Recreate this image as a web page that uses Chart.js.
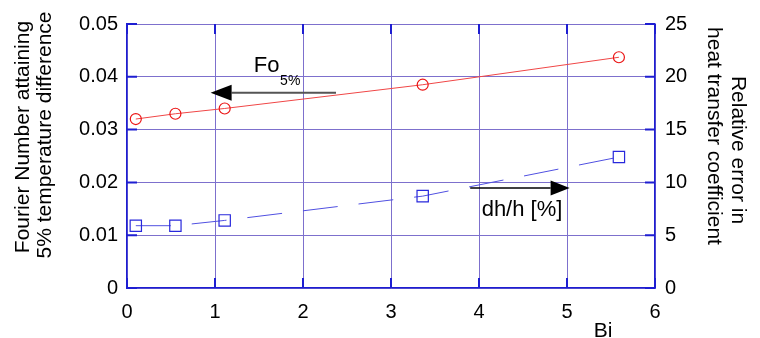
<!DOCTYPE html>
<html>
<head>
<meta charset="utf-8">
<script src="https://cdn.jsdelivr.net/npm/chart.js@4"></script>
<style>
    body { margin: 0; background: #fff; }
    #wrap { width: 760px; height: 338px; position: relative; }
</style>
</head>
<body>
<div id="wrap"><canvas id="biChart"></canvas></div>
<script>
// Biot numbers of the calculated cases
const bi = [0.1, 0.55, 1.11, 3.36, 5.59];
// Fourier number reaching 5% temperature difference (left axis)
const fo5 = [0.032, 0.033, 0.034, 0.0385, 0.0437];
// relative error dh/h in % (right axis)
const dhh = [5.9, 5.9, 6.4, 8.7, 12.4];

const xTicks = [0, 1, 2, 3, 4, 5, 6];
const leftTicks = [0, 0.01, 0.02, 0.03, 0.04, 0.05];
const rightTicks = [0, 5, 10, 15, 20, 25];

// annotation anchors in data units: [x, y]
const foArrow = [[2.375, 0.037], [0.95, 0.037]];
const dhArrow = [[3.9, 9.47], [5.03, 9.47]];
const foLabel = [1.44, 0.0409];
const foSubLabel = [1.74, 0.0385];
const dhLabel = [4.03, 6.8];

const FONT = "'Liberation Sans', Arial, sans-serif";
const GRID = 'rgb(125,112,205)';
const DARK = 'rgb(30,30,210)';

Chart.defaults.font.family = FONT;
Chart.defaults.color = '#000';

function arrow(ctx, x1, y1, x2, y2, color, width, headLen, headHalf) {
    const dir = Math.sign(x2 - x1);
    ctx.save();
    ctx.strokeStyle = color;
    ctx.lineWidth = width;
    ctx.beginPath();
    ctx.moveTo(x1, y1);
    ctx.lineTo(x2 - dir * headLen, y2);
    ctx.stroke();
    ctx.fillStyle = '#000';
    ctx.beginPath();
    ctx.moveTo(x2, y2);
    ctx.lineTo(x2 - dir * headLen, y2 - headHalf);
    ctx.lineTo(x2 - dir * headLen, y2 + headHalf);
    ctx.closePath();
    ctx.fill();
    ctx.restore();
}

function vText(ctx, text, x, y, angle) {
    ctx.save();
    ctx.translate(x, y);
    ctx.rotate(angle);
    ctx.textAlign = 'center';
    ctx.textBaseline = 'middle';
    ctx.fillText(text, 0, 0);
    ctx.restore();
}

const decorPlugin = {
    id: 'decor',
    afterDraw(chart) {
        const { ctx, chartArea: a, scales } = chart;
        const sx = scales.x, sl = scales.y, sr = scales.y2;

        // inner tick marks on the frame
        ctx.save();
        ctx.strokeStyle = DARK;
        ctx.lineWidth = 2;
        ctx.beginPath();
        xTicks.forEach(v => {
            const px = sx.getPixelForValue(v);
            ctx.moveTo(px, a.top); ctx.lineTo(px, a.top + 10);
            ctx.moveTo(px, a.bottom); ctx.lineTo(px, a.bottom - 10);
        });
        leftTicks.forEach(v => {
            const py = sl.getPixelForValue(v);
            ctx.moveTo(a.left, py); ctx.lineTo(a.left + 10, py);
            ctx.moveTo(a.right, py); ctx.lineTo(a.right - 10, py);
        });
        ctx.stroke();
        ctx.restore();

        // arrows
        arrow(ctx, sx.getPixelForValue(foArrow[0][0]), sl.getPixelForValue(foArrow[0][1]),
            sx.getPixelForValue(foArrow[1][0]), sl.getPixelForValue(foArrow[1][1]), '#555', 2, 21, 8);
        arrow(ctx, sx.getPixelForValue(dhArrow[0][0]), sr.getPixelForValue(dhArrow[0][1]),
            sx.getPixelForValue(dhArrow[1][0]), sr.getPixelForValue(dhArrow[1][1]), '#000', 1.5, 19, 7.5);

        ctx.save();
        ctx.fillStyle = '#000';
        ctx.textAlign = 'left';
        ctx.textBaseline = 'alphabetic';
        ctx.font = '22px ' + FONT;
        ctx.fillText('Fo', sx.getPixelForValue(foLabel[0]), sl.getPixelForValue(foLabel[1]));
        ctx.fillText('dh/h [%]', sx.getPixelForValue(dhLabel[0]), sr.getPixelForValue(dhLabel[1]));
        ctx.font = '14px ' + FONT;
        ctx.fillText('5%', sx.getPixelForValue(foSubLabel[0]), sl.getPixelForValue(foSubLabel[1]));

        // axis titles
        ctx.font = '21px ' + FONT;
        ctx.textAlign = 'center';
        ctx.fillText('Bi', 603, 337);
        vText(ctx, 'Fourier Number attaining', 23, 137, -Math.PI / 2);
        vText(ctx, '5% temperature difference', 45, 135, -Math.PI / 2);
        vText(ctx, 'Relative error in', 738, 150, Math.PI / 2);
        vText(ctx, 'heat transfer coefficient', 714, 136, Math.PI / 2);
        ctx.restore();
    }
};

new Chart(document.getElementById('biChart'), {
    type: 'line',
    data: {
        datasets: [{
            label: 'Fo5%',
            data: bi.map((x, i) => ({ x, y: fo5[i] })),
            yAxisID: 'y',
            borderColor: 'rgb(240,70,70)',
            borderWidth: 1,
            pointStyle: 'circle',
            pointRadius: 5.5,
            pointBorderColor: 'rgb(235,20,20)',
            pointBackgroundColor: 'rgba(0,0,0,0)',
            pointBorderWidth: 1.2,
            tension: 0
        }, {
            label: 'dh/h',
            data: bi.map((x, i) => ({ x, y: dhh[i] })),
            yAxisID: 'y2',
            borderColor: 'rgb(80,80,225)',
            borderWidth: 1,
            borderDash: [35, 21],
            pointStyle: 'rect',
            pointRadius: 8,
            pointBorderColor: 'rgb(40,40,220)',
            pointBackgroundColor: 'rgba(0,0,0,0)',
            pointBorderWidth: 1.2,
            tension: 0
        }]
    },
    options: {
        responsive: true,
        maintainAspectRatio: false,
        animation: false,
        layout: { padding: { top: 24, left: 0, right: 0, bottom: 0 } },
        plugins: { legend: { display: false }, tooltip: { enabled: false } },
        scales: {
            x: {
                type: 'linear',
                min: 0,
                max: 6,
                afterFit: s => { s.height = 50; },
                afterBuildTicks: s => { s.ticks = xTicks.map(v => ({ value: v })); },
                ticks: { padding: 12, font: { size: 20 }, color: '#000' },
                grid: { color: GRID, lineWidth: 1, drawTicks: false },
                border: { color: DARK, width: 1.5 }
            },
            y: {
                position: 'left',
                min: 0,
                max: 0.05,
                afterFit: s => { s.width = 127; },
                afterBuildTicks: s => { s.ticks = leftTicks.map(v => ({ value: v })); },
                ticks: { padding: 9, font: { size: 20 }, color: '#000', callback: v => String(+v.toFixed(2)) },
                grid: { color: GRID, lineWidth: 1, drawTicks: false },
                border: { color: DARK, width: 1.5 }
            },
            y2: {
                position: 'right',
                min: 0,
                max: 25,
                afterFit: s => { s.width = 105; },
                afterBuildTicks: s => { s.ticks = rightTicks.map(v => ({ value: v })); },
                ticks: { padding: 10, font: { size: 20 }, color: '#000' },
                grid: { drawOnChartArea: false, drawTicks: false },
                border: { color: DARK, width: 1.5 }
            }
        }
    },
    plugins: [decorPlugin]
});
</script>
</body>
</html>
